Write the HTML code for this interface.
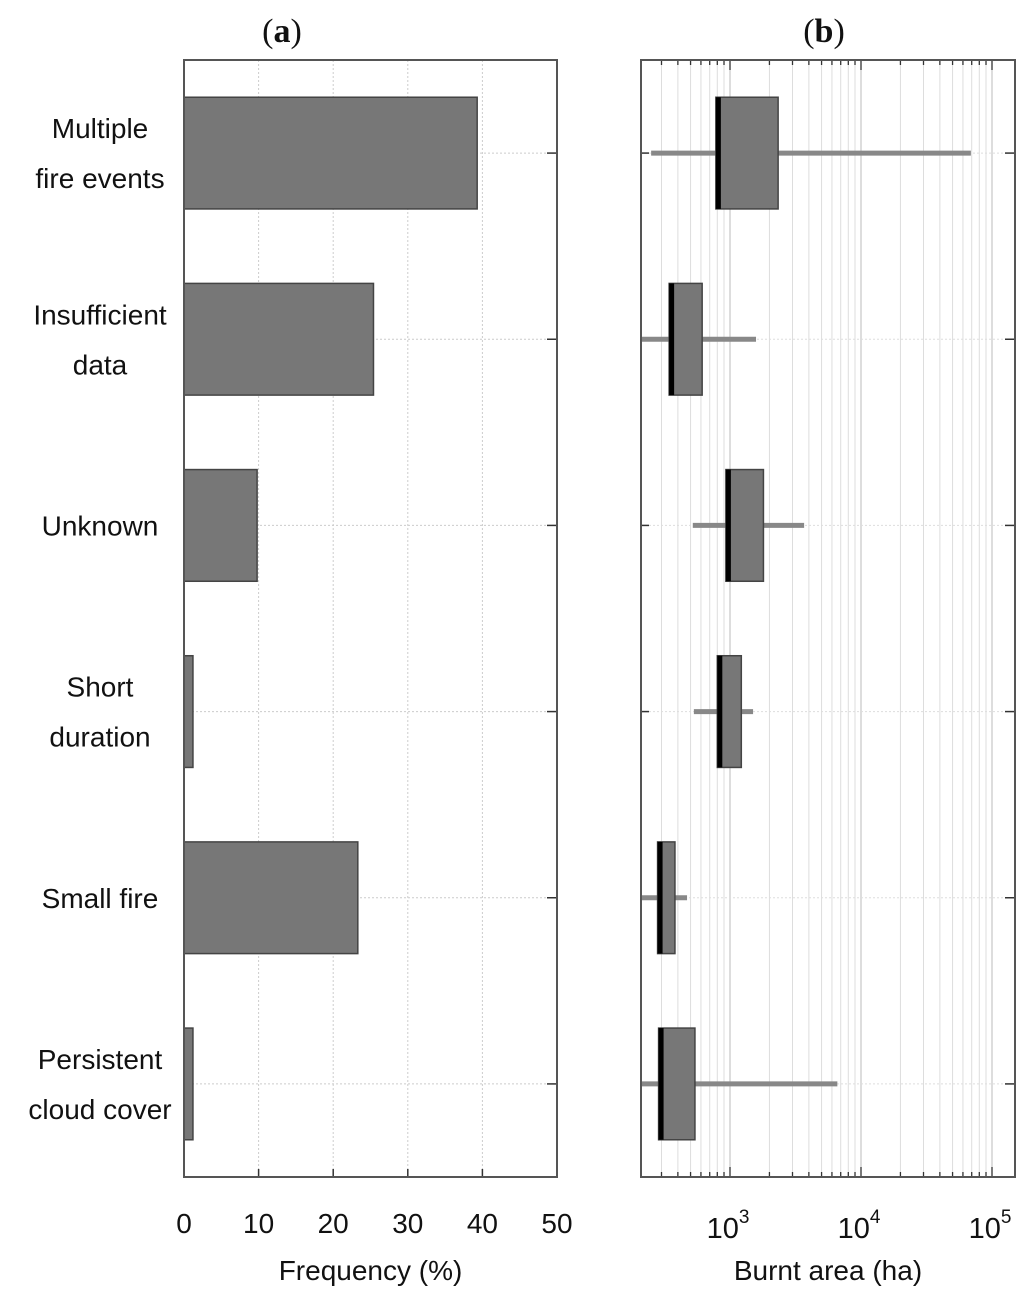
<!DOCTYPE html>
<html><head><meta charset="utf-8"><style>
html,body{margin:0;padding:0;background:#fff;}
svg{display:block;font-family:"Liberation Sans",sans-serif;}
</style></head><body>
<svg id="chart" width="1024" height="1291" viewBox="0 0 1024 1291" xmlns="http://www.w3.org/2000/svg">
<g id="pa"></g>
<g id="pb"></g>
</svg>
<script>
const categories = ["Multiple fire events","Insufficient data","Unknown","Short duration","Small fire","Persistent cloud cover"];
const labelLines = [["Multiple","fire events"],["Insufficient","data"],["Unknown"],["Short","duration"],["Small fire"],["Persistent","cloud cover"]];
const frequency = [39.3, 25.4, 9.8, 1.2, 23.3, 1.2];
const freqTicks = [0,10,20,30,40,50];
const whiskerLow = [250, 150, 520, 530, 150, 150];
const boxLow = [780, 343, 930, 800, 280, 285];
const boxHigh = [2330, 613, 1800, 1220, 380, 540];
const whiskerHigh = [69000, 1580, 3680, 1500, 470, 6600];
const logTicks = [3,4,5];

const NS="http://www.w3.org/2000/svg";
function mk(p,t,a){const e=document.createElementNS(NS,t);for(const k in a)e.setAttribute(k,a[k]);p.appendChild(e);return e;}
const plotTop=60,plotBot=1177;
const band=(plotBot-plotTop)/categories.length;
const yc=i=>plotTop+band*(i+0.5);
const bh=band*0.6;
// panel a
const aL=184,aR=557;
const xa=v=>aL+(v-0)/(50-0)*(aR-aL);
const pa=document.getElementById('pa');
freqTicks.forEach(t=>{
  if(t>0&&t<50){const g=mk(pa,'line',{x1:xa(t),x2:xa(t),y1:plotTop,y2:plotBot,stroke:'#ccc','stroke-width':1,'stroke-dasharray':'2,2'});
  
  const tk=mk(pa,'line',{x1:xa(t),x2:xa(t),y1:plotBot,y2:plotBot-8,stroke:'#333','stroke-width':1.5});
  }
  const l=mk(pa,'text',{x:xa(t),y:1233,'font-size':28,'text-anchor':'middle',fill:'#111'});l.textContent=t;
  
});
categories.forEach((c,i)=>{
  const g=mk(pa,'line',{x1:aL,x2:aR,y1:yc(i),y2:yc(i),stroke:'#ccc','stroke-width':1,'stroke-dasharray':'2,2'});
  
  const t1=mk(pa,'line',{x1:aR,x2:aR-10,y1:yc(i),y2:yc(i),stroke:'#333','stroke-width':1.5});
  
  const b=mk(pa,'rect',{x:aL,y:yc(i)-bh/2,width:xa(frequency[i])-aL,height:bh,fill:'#777',stroke:'#444','stroke-width':1.5});
  
  const lines=labelLines[i];
  lines.forEach((ln,j)=>{
    const tx=mk(pa,'text',{x:100,y:yc(i)+10+(j-(lines.length-1)/2)*50,'font-size':28,'text-anchor':'middle',fill:'#111'});tx.textContent=ln;
    
  });
});
const fa=mk(pa,'rect',{x:aL,y:plotTop,width:aR-aL,height:plotBot-plotTop,fill:'none',stroke:'#555','stroke-width':2});

const ta=mk(pa,'text',{x:aL+(aR-aL)/2,y:1280,'font-size':28,'text-anchor':'middle',fill:'#111'});ta.textContent='Frequency (%)';

const pta=mk(pa,'text',{x:282,y:42,'font-size':34,'text-anchor':'middle','font-family':'Liberation Serif, serif',fill:'#111'});
pta.innerHTML='(<tspan font-weight="bold">a</tspan>)';


// panel b
const bL=641,bR=1015,dec=131,x3=730;
const xb=v=>Math.max(bL,Math.min(bR,x3+(Math.log10(v)-3)*dec));
const pb=document.getElementById('pb');
for(let e=2;e<=5;e++){for(let m=1;m<10;m++){const v=m*Math.pow(10,e);const x=x3+(Math.log10(v)-3)*dec;
  if(x<=bL+1||x>=bR-1)continue;
  const g=mk(pb,'line',{x1:x,x2:x,y1:plotTop,y2:plotBot,stroke:m===1?'#bbb':'#ddd','stroke-width':1});
  
  const len=m===1?10:5;
  const t1=mk(pb,'line',{x1:x,x2:x,y1:plotBot,y2:plotBot-len,stroke:'#333','stroke-width':1.3});
  
  const t2=mk(pb,'line',{x1:x,x2:x,y1:plotTop,y2:plotTop+len,stroke:'#333','stroke-width':1.3});
  
}}
logTicks.forEach(e=>{
  const x=x3+(e-3)*dec;
  const l=mk(pb,'text',{x:x-2,y:1238,'font-size':29,'text-anchor':'middle',fill:'#111'});
  l.innerHTML='10<tspan font-size="19" dy="-15">'+e+'</tspan>';
  
});
categories.forEach((c,i)=>{
  const y=yc(i);
  const g=mk(pb,'line',{x1:bL,x2:bR,y1:y,y2:y,stroke:'#ddd','stroke-width':1,'stroke-dasharray':'2,2'});
  
  const t1=mk(pb,'line',{x1:bR,x2:bR-10,y1:y,y2:y,stroke:'#333','stroke-width':1.5});
  
  const t2=mk(pb,'line',{x1:bL,x2:bL+8,y1:y,y2:y,stroke:'#333','stroke-width':1.5});
  
  const w=mk(pb,'line',{x1:xb(whiskerLow[i]),x2:xb(whiskerHigh[i]),y1:y,y2:y,stroke:'#888','stroke-width':5});
  
  const b=mk(pb,'rect',{x:xb(boxLow[i]),y:y-bh/2,width:xb(boxHigh[i])-xb(boxLow[i]),height:bh,fill:'#777',stroke:'#444','stroke-width':1.5});
  
  const md=mk(pb,'rect',{x:xb(boxLow[i]),y:y-bh/2,width:5,height:bh,fill:'#000'});
  
});
const fb=mk(pb,'rect',{x:bL,y:plotTop,width:bR-bL,height:plotBot-plotTop,fill:'none',stroke:'#555','stroke-width':2});

const tb=mk(pb,'text',{x:828,y:1280,'font-size':28,'text-anchor':'middle',fill:'#111'});tb.textContent='Burnt area (ha)';

const ptb=mk(pb,'text',{x:824,y:42,'font-size':34,'text-anchor':'middle','font-family':'Liberation Serif, serif',fill:'#111'});
ptb.innerHTML='(<tspan font-weight="bold">b</tspan>)';

</script>
</body></html>
